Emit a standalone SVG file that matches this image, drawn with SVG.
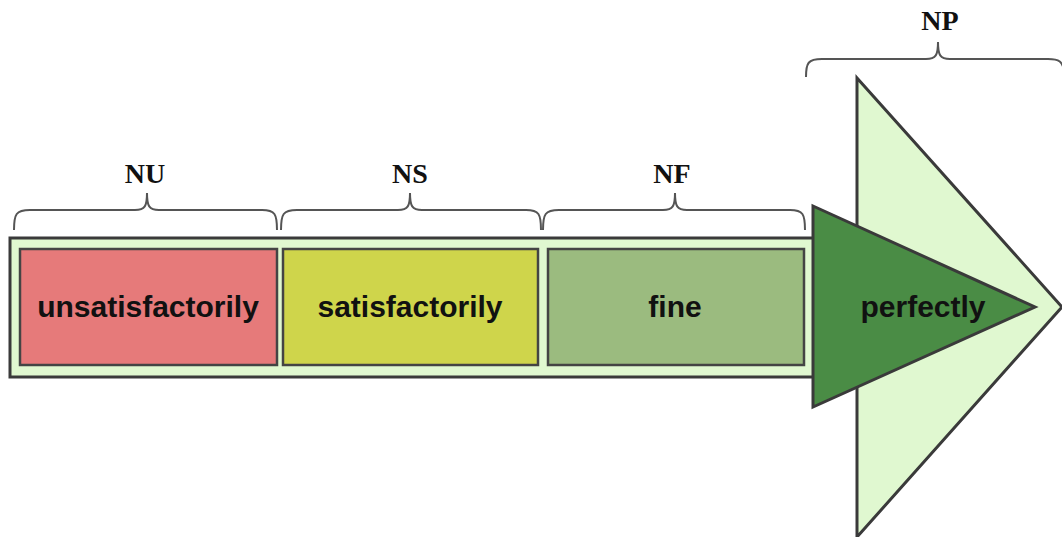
<svg xmlns="http://www.w3.org/2000/svg" width="1062" height="537" viewBox="0 0 1062 537">
  <style>
    .edge { stroke: #3a3a3a; stroke-width: 3; stroke-linejoin: miter; }
    .cell { stroke: #444; stroke-width: 2.5; }
    .label { font-family: "Liberation Sans", Arial, sans-serif; font-weight: bold; font-size: 30px; fill: #111; text-anchor: middle; }
    .tag { font-family: "Liberation Serif", "Times New Roman", serif; font-weight: bold; font-size: 28px; fill: #111; text-anchor: middle; }
    .brace { fill: none; stroke: #555; stroke-width: 2; }
  </style>

  <!-- large background arrowhead -->
  <g id="np-head">
    <polygon class="edge" points="857,78 1062,307 857,537" fill="#e0f8d0"/>
  </g>

  <!-- scale bar -->
  <g id="bar">
    <rect class="edge" x="10" y="238" width="806" height="139" fill="#e0f8d0"/>
  </g>

  <g id="nu">
    <rect class="cell" x="20" y="249" width="257" height="116" fill="#e67a7a"/>
    <text class="label" x="148" y="317">unsatisfactorily</text>
  </g>
  <g id="ns">
    <rect class="cell" x="283" y="249" width="255" height="116" fill="#cfd54b"/>
    <text class="label" x="410" y="317">satisfactorily</text>
  </g>
  <g id="nf">
    <rect class="cell" x="548" y="249" width="256" height="116" fill="#9bbb7f"/>
    <text class="label" x="675" y="317">fine</text>
  </g>
  <g id="np">
    <polygon class="edge" points="813,206 1035,307 813,407" fill="#4a8c45"/>
    <text class="label" x="923" y="317">perfectly</text>
  </g>

  <!-- braces with their tags -->
  <g id="braces">
    <path class="brace" d="M14,230 C14,214 16,210 30,210 L135,210 C145,210 147,206 147,193 C147,206 149,210 159,210 L262,210 C275,210 277,214 277,230"/>
    <path class="brace" d="M281,230 C281,214 283,210 297,210 L398,210 C408,210 410,206 410,193 C410,206 412,210 422,210 L526,210 C539,210 541,214 541,230"/>
    <path class="brace" d="M543,230 C543,214 545,210 559,210 L663,210 C673,210 675,206 675,193 C675,206 677,210 687,210 L790,210 C803,210 805,214 805,230"/>
    <path class="brace" d="M806,77 C806,63 808,59 822,59 L926,59 C936,59 938,55 938,42 C938,55 940,59 950,59 L1048,59 C1060,59 1062,62 1064,70"/>
  </g>
  <g id="tags">
    <text class="tag" x="145" y="183">NU</text>
    <text class="tag" x="410" y="183">NS</text>
    <text class="tag" x="672" y="183">NF</text>
    <text class="tag" x="940" y="30">NP</text>
  </g>
</svg>
